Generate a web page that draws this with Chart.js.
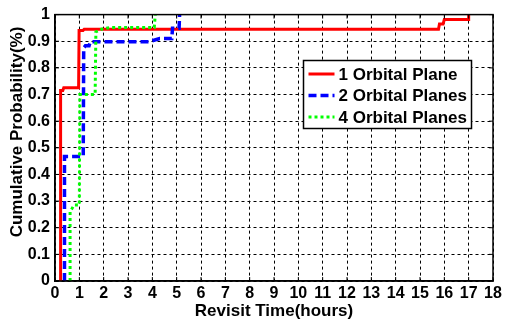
<!DOCTYPE html>
<html>
<head>
<meta charset="utf-8">
<script src="https://cdn.jsdelivr.net/npm/chart.js@4.4.0/dist/chart.umd.min.js"></script>
<style>
  html, body { margin: 0; padding: 0; background: #fff; }
</style>
</head>
<body>
<canvas id="cdf-chart" width="505" height="322"></canvas>
<script>
// revisit time CDF - 1 / 2 / 4 orbital planes

const seriesNames = ["1 Orbital Plane", "2 Orbital Planes", "4 Orbital Planes"];

const redX = [0.23, 0.23, 0.32, 0.36, 0.97, 0.99, 1.15, 1.2, 15.76, 15.8, 15.95, 16.0, 16.98, 17.0];
const redY = [0, 0.715, 0.715, 0.725, 0.725, 0.94, 0.94, 0.945, 0.945, 0.965, 0.965, 0.982, 0.982, 1.0];

const blueX = [0.39, 0.39, 1.1, 1.16, 1.18, 1.25, 1.4, 1.45, 3.86, 4.3, 4.8, 4.83, 5.1, 5.12];
const blueY = [0, 0.467, 0.467, 0.47, 0.875, 0.883, 0.883, 0.898, 0.898, 0.91, 0.91, 0.949, 0.949, 1.0];

const greenX = [0.62, 0.62, 0.7, 0.78, 1.0, 1.02, 1.65, 1.68, 1.9, 2.3, 4.08, 4.12];
const greenY = [0, 0.262, 0.272, 0.285, 0.285, 0.7, 0.7, 0.935, 0.945, 0.952, 0.952, 1.0];

const xTicks = [0, 1, 2, 3, 4, 5, 6, 7, 8, 9, 10, 11, 12, 13, 14, 15, 16, 17, 18];
const yTicks = [0, 0.1, 0.2, 0.3, 0.4, 0.5, 0.6, 0.7, 0.8, 0.9, 1];
const yTickLabels = ["0", "0.1", "0.2", "0.3", "0.4", "0.5", "0.6", "0.7", "0.8", "0.9", "1"];

const xTitle = "Revisit Time(hours)";
const yTitle = "Cumulative Probability(%)";

const FONT = '"Liberation Sans", Arial, sans-serif';
Chart.defaults.font.family = FONT;
Chart.defaults.color = "#000";

const pts = (xs, ys) => xs.map((x, i) => ({ x: x, y: ys[i] }));

// frame, inward ticks, y title and legend box (matlab look)
const matlabLook = {
  id: "matlabLook",
  afterDraw(chart) {
    const { ctx, chartArea: a, scales } = chart;
    ctx.save();
    ctx.strokeStyle = "#000";
    ctx.lineWidth = 1.5;
    ctx.setLineDash([]);
    ctx.strokeRect(a.left, a.top, a.right - a.left, a.bottom - a.top);

    ctx.lineWidth = 1;
    const t = 4;
    xTicks.forEach(v => {
      const px = scales.x.getPixelForValue(v);
      ctx.beginPath();
      ctx.moveTo(px, a.bottom); ctx.lineTo(px, a.bottom - t);
      ctx.moveTo(px, a.top); ctx.lineTo(px, a.top + t);
      ctx.stroke();
    });
    yTicks.forEach(v => {
      const py = scales.y.getPixelForValue(v);
      ctx.beginPath();
      ctx.moveTo(a.left, py); ctx.lineTo(a.left + t, py);
      ctx.moveTo(a.right, py); ctx.lineTo(a.right - t, py);
      ctx.stroke();
    });

    // y axis title
    ctx.fillStyle = "#000";
    ctx.font = "bold 17px " + FONT;
    ctx.textAlign = "center";
    ctx.textBaseline = "middle";
    ctx.translate(17, 132);
    ctx.rotate(-Math.PI / 2);
    ctx.fillText(yTitle, 0, 0);
    ctx.restore();

    // legend
    const bx = 303.5, by = 60.5, bw = 168, bh = 68;
    ctx.save();
    ctx.fillStyle = "#fff";
    ctx.fillRect(bx, by, bw, bh);
    ctx.strokeStyle = "#000";
    ctx.lineWidth = 1.5;
    ctx.strokeRect(bx, by, bw, bh);
    ctx.font = "bold 17px " + FONT;
    ctx.textBaseline = "middle";
    ctx.textAlign = "left";
    chart.data.datasets.forEach((ds, i) => {
      const ry = by + 13.5 + i * 21.5;
      ctx.strokeStyle = ds.borderColor;
      ctx.lineWidth = ds.borderWidth;
      ctx.setLineDash(ds.borderDash || []);
      ctx.beginPath();
      ctx.moveTo(bx + 5, ry);
      ctx.lineTo(bx + 31, ry);
      ctx.stroke();
      ctx.setLineDash([]);
      ctx.fillStyle = "#000";
      ctx.fillText(ds.label, bx + 35, ry + 1);
    });
    ctx.restore();
  }
};

new Chart(document.getElementById("cdf-chart"), {
  type: "scatter",
  data: {
    datasets: [
      {
        label: seriesNames[0],
        data: pts(redX, redY),
        borderColor: "#ff0000",
        borderWidth: 3,
        order: 3
      },
      {
        label: seriesNames[1],
        data: pts(blueX, blueY),
        borderColor: "#0000ff",
        borderWidth: 3.5,
        borderDash: [8, 4],
        order: 2
      },
      {
        label: seriesNames[2],
        data: pts(greenX, greenY),
        borderColor: "#00ff00",
        borderWidth: 3,
        borderDash: [3, 3],
        order: 1
      }
    ]
  },
  options: {
    responsive: false,
    animation: false,
    showLine: true,
    elements: {
      point: { radius: 0, hoverRadius: 0 },
      line: { tension: 0, fill: false, borderCapStyle: "butt" }
    },
    layout: { padding: { left: 0, right: 12, top: 12, bottom: 0 } },
    plugins: {
      legend: { display: false },
      tooltip: { enabled: false }
    },
    scales: {
      x: {
        type: "linear",
        min: 0,
        max: 18,
        afterBuildTicks: s => { s.ticks = xTicks.map(v => ({ value: v })); },
        afterFit: s => { s.height = 41; },
        ticks: {
          font: { size: 16, weight: "bold" },
          color: "#000",
          padding: 3,
          maxRotation: 0,
          autoSkip: false,
          callback: v => String(v)
        },
        grid: { color: "#000", lineWidth: 1, drawTicks: false },
        border: { display: true, color: "#000", width: 1.5, dash: [3, 3] },
        title: {
          display: true,
          text: xTitle,
          font: { size: 17, weight: "bold" },
          color: "#000",
          padding: { top: 0, bottom: 0 }
        }
      },
      y: {
        type: "linear",
        min: 0,
        max: 1,
        afterBuildTicks: s => { s.ticks = yTicks.map(v => ({ value: v })); },
        afterFit: s => { s.width = 55; },
        ticks: {
          font: { size: 16, weight: "bold" },
          color: "#000",
          padding: 5,
          callback: (v, i) => yTickLabels[i]
        },
        grid: { color: "#000", lineWidth: 1, drawTicks: false },
        border: { display: true, color: "#000", width: 1.5, dash: [3, 3] }
      }
    }
  },
  plugins: [matlabLook]
});
</script>
</body>
</html>
